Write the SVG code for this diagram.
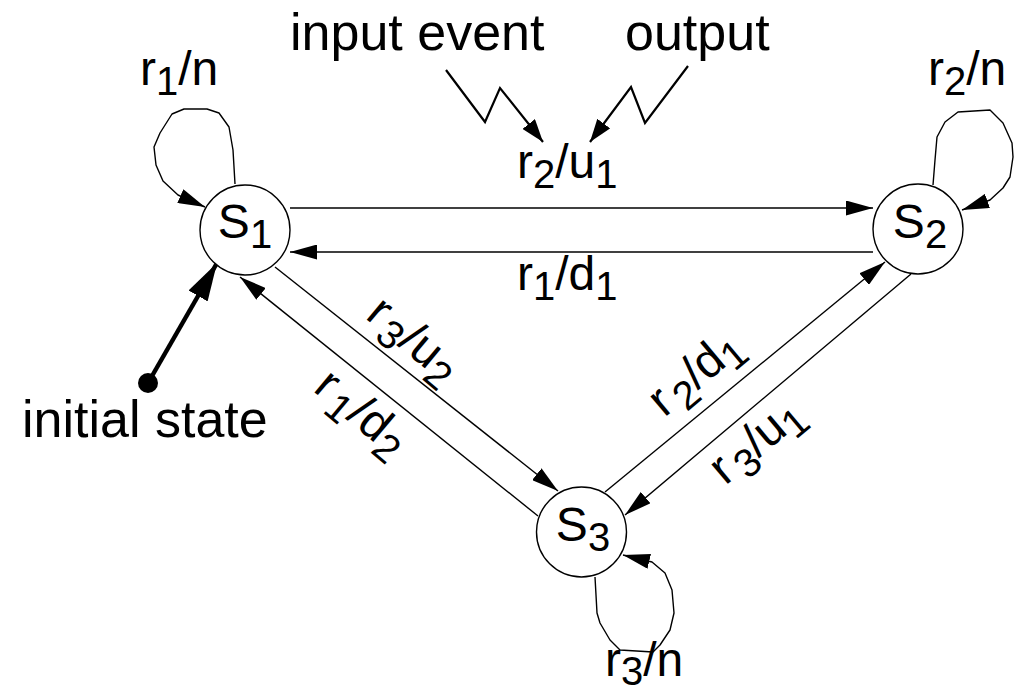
<svg xmlns="http://www.w3.org/2000/svg" width="1023" height="696" viewBox="0 0 1023 696">
<defs>
<style>
text{font-family:"Liberation Sans",Arial,sans-serif;fill:#000}
.lbl{font-size:48px}
.big{font-size:52px}
.st{font-size:48px}
.sub{font-size:40px}
.node{fill:#fff;stroke:#000;stroke-width:1.4}
.tr{fill:none;stroke:#000;stroke-width:1.4}
.loop{fill:none;stroke:#000;stroke-width:1.4;stroke-linejoin:round}
.zz{fill:none;stroke:#000;stroke-width:2.2;stroke-linejoin:miter}
.init{fill:none;stroke:#000;stroke-width:4.5}
</style>
<marker id="arr" markerUnits="userSpaceOnUse" markerWidth="27" markerHeight="15" refX="27" refY="7.5" orient="auto"><path d="M0,0 L27,7.5 L0,15 z" fill="#000"/></marker>
<marker id="arrz" markerUnits="userSpaceOnUse" markerWidth="23" markerHeight="16" refX="23" refY="8" orient="auto"><path d="M0,0 L23,8 L0,16 z" fill="#000"/></marker>
<marker id="arri" markerUnits="userSpaceOnUse" markerWidth="38" markerHeight="22" refX="38" refY="11" orient="auto"><path d="M0,0 L38,11 L0,22 z" fill="#000"/></marker>
</defs>
<g id="connectors">
<line class="tr" x1="290" y1="208" x2="873" y2="208" marker-end="url(#arr)"/>
<line class="tr" x1="873" y1="252" x2="290" y2="252" marker-end="url(#arr)"/>
<line class="tr" x1="275" y1="267" x2="558" y2="491" marker-end="url(#arr)"/>
<line class="tr" x1="538" y1="516" x2="240" y2="277" marker-end="url(#arr)"/>
<line class="tr" x1="605" y1="492" x2="885" y2="262" marker-end="url(#arr)"/>
<line class="tr" x1="911" y1="274" x2="625" y2="515" marker-end="url(#arr)"/>
<polyline class="loop" points="235,184 233,150 229,127 219,113 207,109 184,109 172,114 160,133 154,147 156,165 163,181 178,195 205,207" marker-end="url(#arr)"/>
<polyline class="loop" points="933,185 935,160 937,137 945,122 958,112 990,110 1003,123 1012,143 1013,157 1010,177 1003,188 990,200 962,210" marker-end="url(#arr)"/>
<polyline class="loop" points="595,577 597,613 600,623 610,640 620,650 653,652 660,645 670,630 674,613 672,590 665,573 652,562 623,555" marker-end="url(#arr)"/>
<line class="init" x1="148" y1="383" x2="217" y2="263" marker-end="url(#arri)"/>
<circle cx="148" cy="383" r="10" fill="#000"/>
<polyline class="zz" points="446,70 485,122 500,88 543,142" marker-end="url(#arrz)"/>
<polyline class="zz" points="688,66 645,123 631,87 590,142" marker-end="url(#arrz)"/>
</g>
<g id="S1">
<circle class="node" cx="245" cy="230" r="45"/>
<text class="st" x="245" y="238" text-anchor="middle">S<tspan class="sub" dy="10">1</tspan></text>
</g>
<g id="S2">
<circle class="node" cx="918" cy="229" r="45"/>
<text class="st" x="920" y="238" text-anchor="middle">S<tspan class="sub" dy="10">2</tspan></text>
</g>
<g id="S3">
<circle class="node" cx="581.5" cy="532" r="45"/>
<text class="st" x="583" y="541" text-anchor="middle">S<tspan class="sub" dy="10">3</tspan></text>
</g>
<g id="labels">
<text class="big" x="290" y="50">input event</text>
<text class="big" x="625" y="50">output</text>
<text class="big" x="22" y="437">initial state</text>
<text class="lbl" x="140" y="85">r<tspan class="sub" dy="10">1</tspan><tspan dy="-10">/n</tspan></text>
<text class="lbl" x="928" y="85">r<tspan class="sub" dy="10">2</tspan><tspan dy="-10">/n</tspan></text>
<text class="lbl" x="517" y="178">r<tspan class="sub" dy="10">2</tspan><tspan dy="-10">/u</tspan><tspan class="sub" dy="10">1</tspan></text>
<text class="lbl" x="517" y="290">r<tspan class="sub" dy="10">1</tspan><tspan dy="-10">/d</tspan><tspan class="sub" dy="10">1</tspan></text>
<text class="lbl" x="605" y="676">r<tspan class="sub" dy="9">3</tspan><tspan dy="-9">/n</tspan></text>
<text class="lbl" transform="translate(412,342) rotate(40)" x="0" y="12" text-anchor="middle">r<tspan class="sub" dx="4" dy="10">3</tspan><tspan dy="-10">/u</tspan><tspan class="sub" dy="10">2</tspan></text>
<text class="lbl" transform="translate(360,415) rotate(40)" x="0" y="12" text-anchor="middle">r<tspan class="sub" dx="5" dy="10">1</tspan><tspan dy="-10">/d</tspan><tspan class="sub" dy="10">2</tspan></text>
<text class="lbl" transform="translate(697,375) rotate(-40)" x="0" y="12" text-anchor="middle">r<tspan class="sub" dx="5" dy="10">2</tspan><tspan dy="-10">/d</tspan><tspan class="sub" dy="10">1</tspan></text>
<text class="lbl" transform="translate(758,443) rotate(-40)" x="0" y="12" text-anchor="middle">r<tspan class="sub" dx="5" dy="10">3</tspan><tspan dy="-10">/u</tspan><tspan class="sub" dy="10">1</tspan></text>
</g>
</svg>
